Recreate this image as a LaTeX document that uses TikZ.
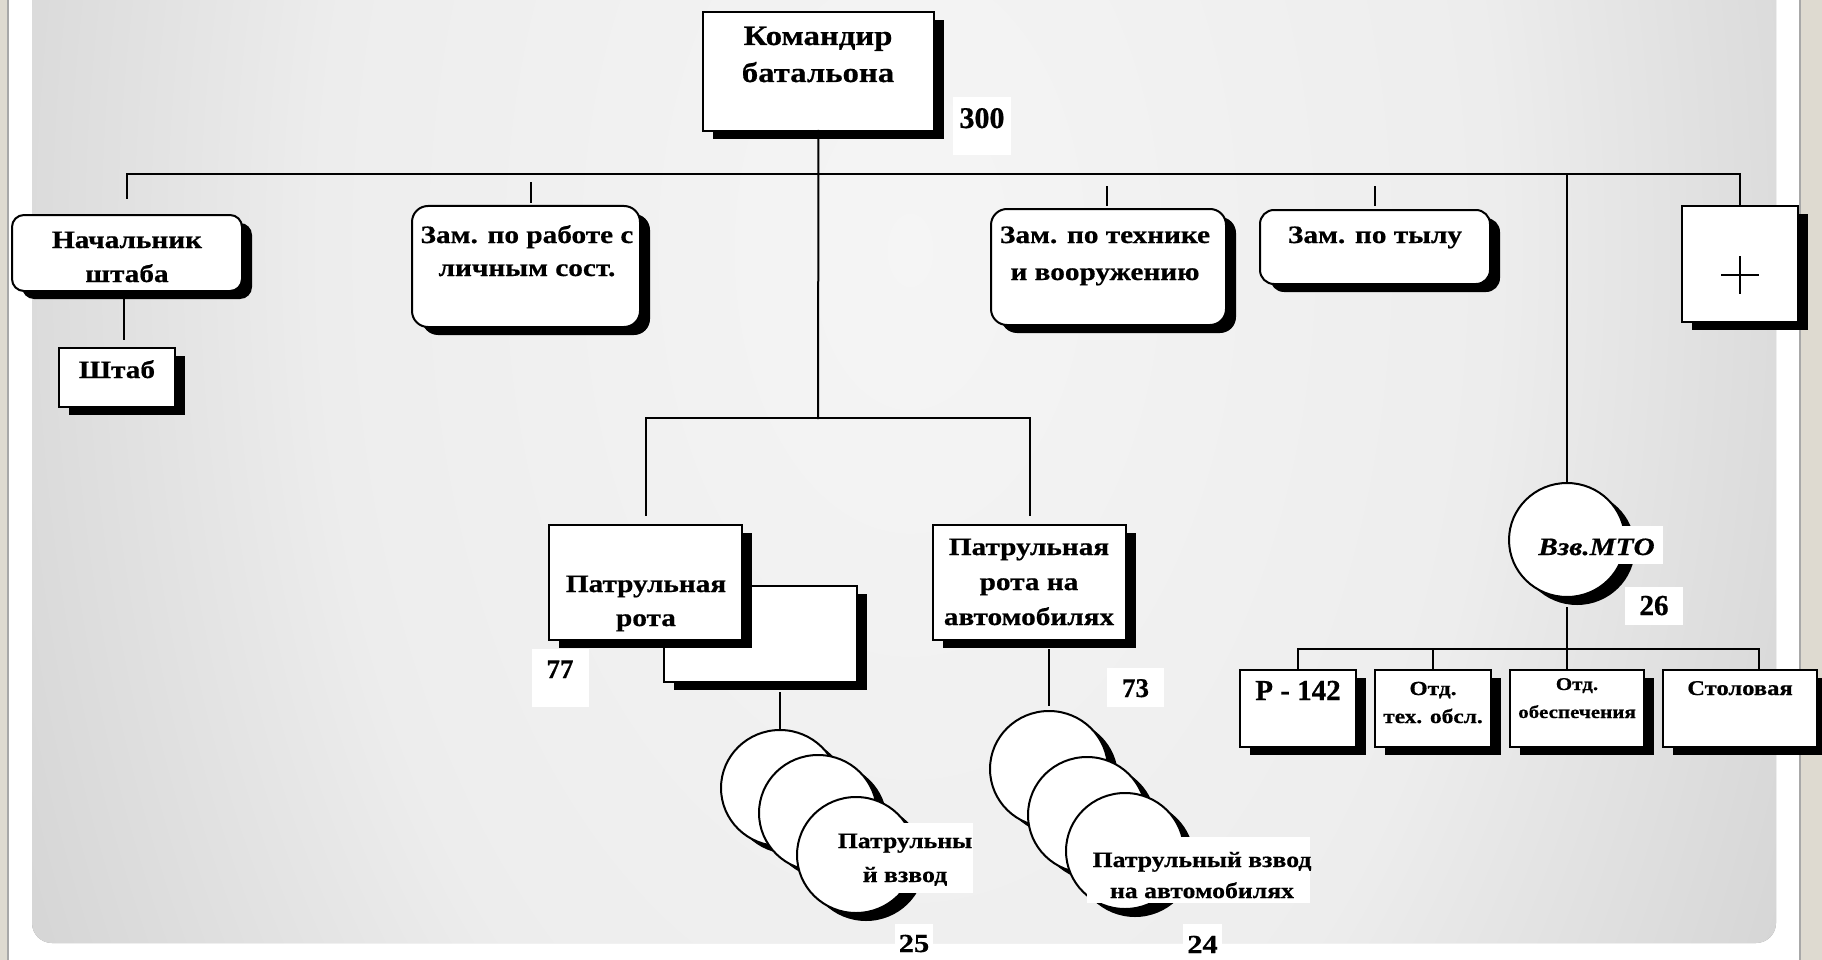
\documentclass[tikz,border=0pt]{standalone}
\usepackage{fontspec}
\setmainfont{Liberation Serif}
\newfontfamily\widefont{Liberation Serif}[FakeStretch=1.17, FakeBold=0.6]
\newfontfamily\numfont{Liberation Serif}[FakeBold=0.6]
\usetikzlibrary{shadows,shapes.geometric,calc}
\definecolor{beige}{HTML}{DEDAD0}
\definecolor{edgegray}{HTML}{A8A8A8}
\definecolor{pcA}{gray}{0.96}
\definecolor{pcB}{gray}{0.93}
\definecolor{pcC}{gray}{0.80}
\definecolor{pcD}{gray}{0.655}
\definecolor{pcE}{gray}{0.61}
\pgfdeclareradialshading{panelsh}{\pgfpoint{0bp}{0bp}}{color(0bp)=(pcA); color(14bp)=(pcB); color(27bp)=(pcC); color(41bp)=(pcD); color(50bp)=(pcE)}
\tikzset{
  boxs/.style={draw=black, fill=white, line width=2pt, inner sep=0pt, outer sep=0pt,
    general shadow={fill=black, shadow xshift=10pt, shadow yshift=-8pt}},
  rbox/.style={boxs, rounded corners=#1},
  disc/.style={boxs, ellipse, minimum width=118pt, minimum height=116pt},
  ln/.style={line width=2pt, line cap=rect},
  tx/.style={inner sep=0pt, anchor=base, font=\widefont\bfseries\fontsize{#1}{#1}\selectfont},
  tx/.default=25,
  numlbl/.style={fill=white, inner sep=0pt, anchor=base, font=\numfont\bfseries\fontsize{#1}{#1}\selectfont},
  wlbl/.style={fill=white, inner sep=0pt},
}
\begin{document}
\begin{tikzpicture}[x=1pt,y=-1pt]
\useasboundingbox (0,0) rectangle (1822,960);
% background
\fill[beige] (0,0) rectangle (1822,960);
\fill[white] (8,0) rectangle (1800,960);
\draw[edgegray, line width=1.5pt] (8,0) -- (8,960);
\draw[edgegray, line width=1.5pt] (1800,0) -- (1800,960);
\begin{scope}
  \clip[rounded corners=20pt] (32,-40) rectangle (1776,943);
  \fill[pcE] (0,-40) rectangle (1822,960);
  \shade[shading=panelsh] (910,250) ellipse [x radius=1045pt, y radius=1683pt];
\end{scope}

% coordinates of junctions
\coordinate (jm) at (818,174);
\coordinate (jr) at (818,418);
\coordinate (jb) at (1567,649);

% boxes
\node[boxs, minimum width=231pt, minimum height=119pt] (cmd) at (818.5,71.5) {};
\node[rbox=12pt, minimum width=230pt, minimum height=76pt] (nach) at (127,253) {};
\node[boxs, minimum width=116pt, minimum height=59pt] (shtab) at (117,377.5) {};
\node[rbox=16pt, minimum width=228pt, minimum height=121pt] (zam1) at (526,266.5) {};
\node[rbox=16pt, minimum width=235pt, minimum height=116pt] (zam2) at (1108.5,267) {};
\node[rbox=14pt, minimum width=230pt, minimum height=74pt] (zam3) at (1375,247) {};
\node[boxs, minimum width=116pt, minimum height=116pt] (plus) at (1740,264) {};
\node[boxs, minimum width=193pt, minimum height=96pt] (rotaB) at (760.5,634) {};
\node[boxs, minimum width=193pt, minimum height=115pt] (rota) at (645.5,582.5) {};
\node[boxs, minimum width=193pt, minimum height=115pt] (rotaA) at (1029.5,582.5) {};
\node[disc, minimum width=116pt, minimum height=114pt] (mto) at (1567,540) {};
\node[boxs, minimum width=116pt, minimum height=77pt] (r142) at (1298,708.5) {};
\node[boxs, minimum width=116pt, minimum height=77pt] (otd1) at (1433,708.5) {};
\node[boxs, minimum width=134pt, minimum height=77pt] (otd2) at (1577,708.5) {};
\node[boxs, minimum width=154pt, minimum height=77pt] (stol) at (1740,708.5) {};
\node[disc] (cA1) at (780,788) {};
\node[disc] (cA2) at (818,813) {};
\node[disc] (cA3) at (856,855) {};
\node[disc] (cB1) at (1049,769) {};
\node[disc] (cB2) at (1087,815) {};
\node[disc] (cB3) at (1125,851) {};

% connectors
\draw[ln] (cmd.south) -- (jr);
\draw[ln] (nach.north |- jm) -- (plus.north |- jm);
\draw[ln] (nach.north |- jm) -- ([yshift=17pt]nach.north);
\draw[ln] ([xshift=5pt,yshift=23pt]zam1.north) -- ([xshift=5pt,yshift=4pt]zam1.north);
\draw[ln] ([xshift=-1.5pt,yshift=22pt]zam2.north) -- ([xshift=-1.5pt,yshift=4pt]zam2.north);
\draw[ln] ([yshift=23pt]zam3.north) -- ([yshift=5pt]zam3.north);
\draw[ln] (plus.north |- jm) -- (plus.north);
\draw[ln] (mto.north |- jm) -- (mto.north);
\draw[ln] ([xshift=-3pt,yshift=-9pt]nach.south) -- ([xshift=7pt,yshift=9pt]shtab.north);
\draw[ln] ([yshift=10pt]rota.north) -- (rota.north |- jr) -- (rotaA.north |- jr) -- ([yshift=10pt]rotaA.north);
\draw[ln] ([xshift=19.5pt,yshift=-11pt]rotaB.south) -- (cA1.north);
\draw[ln] ([xshift=19.5pt,yshift=-10pt]rotaA.south) -- ([yshift=6pt]cB1.north);
\draw[ln] ([yshift=-11pt]mto.south) -- ([yshift=2pt]mto.south |- otd2.north);
\draw[ln] (r142.north |- jb) -- ([xshift=19pt]stol.north |- jb);
\draw[ln] (r142.north |- jb) -- ([yshift=2pt]r142.north);
\draw[ln] (otd1.north |- jb) -- ([yshift=2pt]otd1.north);
\draw[ln] ([xshift=19pt]stol.north |- jb) -- ([xshift=19pt,yshift=2pt]stol.north);

% plus sign
\draw[line width=2pt] (1721,275) -- (1759,275);
\draw[line width=2pt] (1740,256) -- (1740,294);

% white label boxes
\node[wlbl, minimum width=136pt, minimum height=70pt] (lpv) at (905,858) {};
\node[wlbl, minimum width=223pt, minimum height=66pt] (lpva) at (1198.5,870) {};

% number labels
\node[numlbl=30, text height=31pt, text depth=27pt, minimum width=58pt] (n300) at (982,128) {300};
\node[numlbl=27, text height=29pt, text depth=29pt, minimum width=57pt] (n77) at (560,678) {77};
\node[numlbl=27, text height=29pt, text depth=10pt, minimum width=57pt] (n73) at (1135.5,697) {73};
\node[numlbl=29, text height=28pt, text depth=10pt, minimum width=58pt] (n26) at (1654,615) {26};
\node[numlbl=26, text height=28pt, text depth=10pt, minimum width=38pt, font=\widefont\bfseries\fontsize{26}{26}\selectfont] (n25) at (914,952) {25};
\node[numlbl=26, text height=29pt, text depth=10pt, minimum width=39pt, font=\widefont\bfseries\fontsize{26}{26}\selectfont] (n24) at (1202.5,953) {24};
\node[numlbl=25, text height=29pt, text depth=9pt, minimum width=133pt, font=\widefont\bfseries\itshape\fontsize{25}{25}\selectfont] (lmto) at (1596.5,555) {Взв.МТО};

% texts
\node[tx=28] (t1) at (818,45) {Командир};
\node[tx=28] (t2) at (818,82) {батальона};
\node[tx] (t3) at (127,248) {Начальник};
\node[tx] (t4) at (127,282) {штаба};
\node[tx] (t5) at (117,378) {Штаб};
\node[tx] (t6) at (527,243) {Зам. по работе с};
\node[tx] (t7) at (527,276) {личным сост.};
\node[tx] (t8) at (1105,243) {Зам. по технике};
\node[tx] (t9) at (1105,280) {и вооружению};
\node[tx] (t10) at (1375,243) {Зам. по тылу};
\node[tx] (t11) at (646,592) {Патрульная};
\node[tx] (t12) at (646,626) {рота};
\node[tx] (t13) at (1029,555) {Патрульная};
\node[tx] (t14) at (1029,590) {рота на};
\node[tx] (t15) at (1029,625) {автомобилях};
\node[tx=22] (t16) at (905,848) {Патрульны};
\node[tx=22] (t17) at (905,882) {й взвод};
\node[tx=22] (t18) at (1202,867) {Патрульный взвод};
\node[tx=22] (t19) at (1202,898) {на автомобилях};
\node[numlbl=29, fill=none] (t20) at (1298,700) {Р - 142};
\node[tx=20] (t21) at (1433,695) {Отд.};
\node[tx=20] (t22) at (1433,723) {тех. обсл.};
\node[tx=18] (t23) at (1577,690) {Отд.};
\node[tx=18] (t24) at (1577,718) {обеспечения};
\node[tx=21] (t25) at (1740,695) {Столовая};
\end{tikzpicture}
\end{document}
